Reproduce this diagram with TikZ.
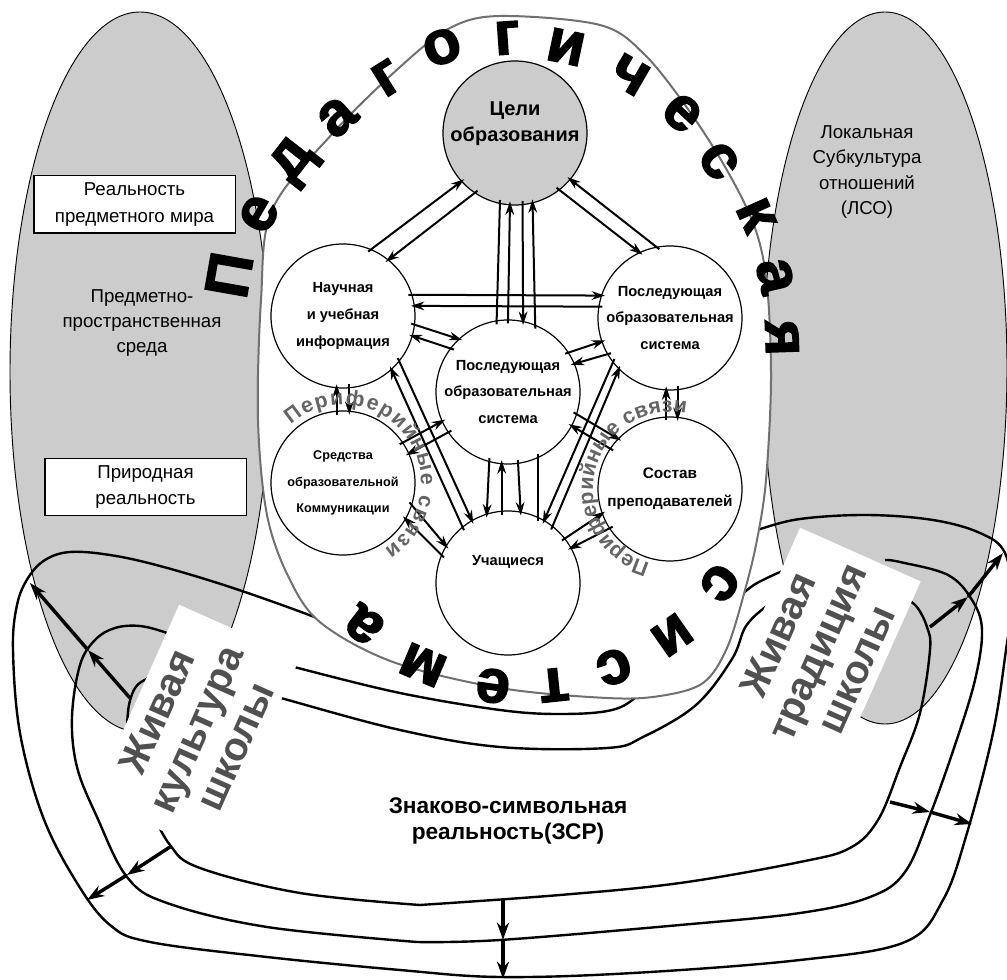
\documentclass[tikz,border=0pt]{standalone}
\usepackage{fontspec}
\setmainfont{Liberation Sans}
\newfontfamily\heavyfont{Liberation Sans Bold}[FakeBold=2.5]
\usetikzlibrary{arrows.meta, decorations.text}

\definecolor{fieldgray}{RGB}{204,204,204}
\definecolor{rimgray}{RGB}{112,112,112}
\definecolor{livegray}{RGB}{80,80,80}
\definecolor{periphgray}{RGB}{100,100,100}

\begin{document}
\begin{tikzpicture}[x=0.75pt, y=-0.75pt,
  field/.style={draw=black, line width=0.7pt, fill=fieldgray},
  band/.style={draw=black, line width=1.8pt},
  rim/.style={draw=rimgray, line width=1.5pt, fill=white},
  circ/.style={circle, draw=black, line width=0.9pt, fill=white,
    minimum size=108pt, inner sep=0pt, align=center,
    font=\fontsize{11}{20}\selectfont\bfseries},
  realbox/.style={rectangle, draw=black, line width=1pt, fill=white,
    minimum width=151pt, minimum height=43pt, align=center,
    font=\fontsize{14}{20}\selectfont},
  freetext/.style={align=center, font=\fontsize{14}{19}\selectfont},
  livebox/.style={rectangle, fill=white, rotate=66, inner sep=0pt,
    minimum width=160pt, minimum height=99pt, align=center,
    text=livegray, font=\fontsize{30}{32}\selectfont\bfseries},
  arr/.style={line width=1.5pt, -{Stealth[length=10pt, width=6.5pt]},
    shorten >=-3pt, shorten <=-3pt},
  link/.style={line width=1.5pt, shorten >=-3pt, shorten <=-3pt},
  bigarr/.style={line width=2.6pt, -{Stealth[length=13pt, width=9pt]}},
  bigletter/.style={font=\fontsize{46}{46}\heavyfont, inner sep=0pt},
  periph/.style={decorate, decoration={text along path,
    text={|\fontsize{16}{16}\selectfont\bfseries\color{periphgray}|Периферийные связи},
    text align={fit to path}}},
]
\useasboundingbox (0,0) rectangle (1007,980);

% fields
\draw[field] (140,372) ellipse [x radius=130, y radius=360];
\draw[field] (885,368) ellipse [x radius=122, y radius=356];

% bands
\draw[band] plot[smooth, tension=0.6] coordinates {(335,628) (317,618) (233,588) (160,566) (110,555) (70,552) (45,560) (28,578) (17,605) (13,650) (20,733) (43,817) (77,883) (110,925) (150,942) (267,957) (400,970) (500,977) (633,973) (800,960) (905,942) (943,900) (967,833) (993,733) (1006,650) (1012,600) (1005,553) (980,533) (933,520) (867,515) (800,519) (757,530) (738,537)};
\draw[band] plot[smooth, tension=0.6] coordinates {(180,640) (167,633) (140,626) (115,628) (95,640) (80,665) (72,717) (77,767) (97,817) (127,877) (167,903) (267,927) (417,942)}
  -- plot[smooth, tension=0.6] coordinates {(417,942) (500,940) (680,925) (800,913) (870,897) (905,872) (930,815) (955,745) (975,680) (982,630) (972,600) (948,575) (900,562) (885,560)};
\draw[band] plot[smooth, tension=0.6] coordinates {(162,670) (148,678) (135,688) (128,712) (130,745) (150,805) (170,845) (200,868) (300,893) (420,905)}
  -- plot[smooth, tension=0.6] coordinates {(420,905) (560,895) (680,883) (800,862) (850,848) (878,820) (900,767) (920,713) (930,650) (927,627) (917,607) (905,598)};
\draw[band] plot[smooth, tension=0.6] coordinates {(286,664) (298,668) (400,693) (500,710) (560,714) (612,710) (640,694) (675,662) (712,622) (747,590) (767,578) (792,567)};
\draw[band] plot[smooth, tension=0.6] coordinates {(276,696) (288,700) (400,730) (500,747) (607,748) (643,737) (696,705) (732,659) (746,626) (768,605) (782,598)};

% pedagogical system
\draw[rim] plot[smooth cycle, tension=0.55] coordinates {(500,16) (600,25) (645,55) (690,112) (728,172) (755,228) (767,285) (771,380) (766,480) (757,540) (745,590) (727,648) (703,683) (660,696) (607,698) (500,688) (393,662) (321,623) (289,578) (267,515) (258,420) (261,300) (272,210) (333,133) (400,67) (450,28)};

% living culture and tradition
\node[livebox] (culture) at (196,729) {Живая\\культура\\школы};
\node[livebox] (tradition) at (817,652) {Живая\\традиция\\школы};

% texts
\node[realbox] (objworld) at (134.5,204.5) {Реальность\\предметного мира};
\node[realbox] (nature) at (145.5,487) {Природная\\реальность};
\node[freetext] (environ) at (142,323) {Предметно-\\пространственная\\среда};
\node[freetext] (lso) at (867,172) {Локальная\\Субкультура\\отношений\\(ЛСО)};
\node[freetext, font=\fontsize{17}{20}\selectfont\bfseries] (zsr) at (508,821) {Знаково-символьная\\реальность(ЗСР)};

% circles
\node[circ, fill=fieldgray, label={[font=\fontsize{15}{20}\selectfont\bfseries, align=center, yshift=7pt]center:Цели\\образования}] (tseli) at (515,133) {};
\node[circ] (nauch) at (343,316) {Научная\\и учебная\\информация};
\node[circ] (mid) at (508,392) {Последующая\\образовательная\\система};
\node[circ] (posl) at (670,318) {Последующая\\образовательная\\система};
\node[circ, font=\fontsize{9.5}{20}\selectfont\bfseries] (sredst) at (343,483) {Средства\\образовательной\\Коммуникации};
\node[circ, font=\fontsize{11.5}{21}\selectfont\bfseries] (sostav) at (670,489) {Состав\\преподавателей};
\node[circ, label={[font=\fontsize{11}{20}\selectfont\bfseries, yshift=16pt]center:Учащиеся}] (uch) at (508,583) {};

% Цели
\draw[arr] (nauch.67) -- (tseli.222);
\draw[arr] (tseli.236) -- (nauch.51);
\draw[arr] (tseli.-52) -- (posl.115);
\draw[arr] (posl.101) -- (tseli.-40);
\draw[link] (tseli.-102) -- (mid.99);
\draw[arr] (mid.90) -- (tseli.-94);
\draw[arr] (tseli.-84) -- (mid.78);
\draw[arr] (mid.68) -- (tseli.-76);
% Научная
\draw[arr] (nauch.17) -- (posl.162);
\draw[arr] (posl.171) -- (nauch.8);
\draw[arr] (nauch.-7) -- (mid.133);
\draw[arr] (mid.143) -- (nauch.-16);
\draw[arr] (sredst.95) -- (nauch.-95);
\draw[arr] (nauch.-85) -- (sredst.85);
\draw[arr] (uch.129) -- (nauch.-48);
\draw[arr] (nauch.-39) -- (uch.120);
% центр
\draw[arr] (mid.33) -- (posl.199);
\draw[arr] (posl.210) -- (mid.23);
\draw[arr] (sredst.34) -- (mid.204);
\draw[arr] (mid.214) -- (sredst.24);
\draw[arr] (sredst.-18) -- (uch.149);
\draw[arr] (uch.157) -- (sredst.-30);
\draw[arr] (mid.-105) -- (uch.107);
\draw[arr] (uch.95) -- (mid.-95);
\draw[arr] (mid.-82) -- (uch.80);
\draw[link] (mid.-66) -- (uch.66);
\draw[arr] (mid.-18) -- (sostav.136);
\draw[arr] (sostav.146) -- (mid.-28);
% правая часть
\draw[arr] (posl.218) -- (uch.60);
\draw[arr] (uch.52) -- (posl.225);
\draw[arr] (sostav.93) -- (posl.-93);
\draw[arr] (posl.-84) -- (sostav.84);
\draw[arr] (uch.38) -- (sostav.200);
\draw[arr] (sostav.213) -- (uch.29);

% Педагогическая система
\foreach \ch/\px/\py/\rot [count=\i] in {П/229/275/80, е/259/214/60, д/295/162/52, а/337/117/42, г/387/78/32, о/442/47/20, г/507/38/4, и/566/47/-12, ч/630/75/-30, е/682/113/-43, с/719/161/-55, к/756/215/-66, а/775/276/-77, я/782/338/-88}
  \node[bigletter, rotate=\rot] (ped\i) at (\px,\py) {\ch};
\foreach \ch/\px/\py/\rot [count=\i] in {с/720/583/232, и/672/635/215, с/614/667/200, т/554/685/186, е/493/686/172, м/423/665/157, а/364/625/142}
  \node[bigletter, rotate=\rot] (sys\i) at (\px,\py) {\ch};

% peripheral links
\path[periph] (290.8,425) arc[start angle=-132, end angle=58, radius=78];
\path[periph] (650.1,563.4) arc[start angle=-255, end angle=-78, radius=77];

% band arrows
\coordinate (inL) at (130,698);
\coordinate (midL) at (88,650);
\coordinate (outL) at (30,583);
\coordinate (inBL) at (170,847);
\coordinate (midBL) at (127,875);
\coordinate (outBL) at (87,900);
\coordinate (inB) at (503,900);
\coordinate (midB) at (503,940);
\coordinate (outB) at (503,979);
\coordinate (inBR) at (890,802);
\coordinate (midBR) at (930,812);
\coordinate (outBR) at (972,824);
\coordinate (inR) at (930,627);
\coordinate (midR) at (968,597);
\coordinate (outR) at (1003,553);
\draw[bigarr] (inL) -- (midL);
\draw[bigarr] (midL) -- (outL);
\draw[bigarr] (inBL) -- (midBL);
\draw[bigarr] (midBL) -- (outBL);
\draw[bigarr] (inB) -- (midB);
\draw[bigarr] (midB) -- (outB);
\draw[bigarr] (inBR) -- (midBR);
\draw[bigarr] (midBR) -- (outBR);
\draw[bigarr] (inR) -- (midR);
\draw[bigarr] (midR) -- (outR);

\end{tikzpicture}
\end{document}
